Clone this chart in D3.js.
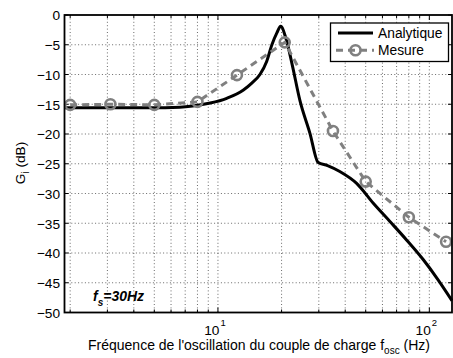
<!DOCTYPE html>
<html>
<head>
<meta charset="utf-8">
<script src="https://cdn.jsdelivr.net/npm/d3@7"></script>
<style>
  html, body { margin: 0; padding: 0; background: #fff; }
  svg { display: block; font-family: "Liberation Sans", Arial, Helvetica, sans-serif; }
</style>
</head>
<body>
<svg id="chart" width="453" height="358"></svg>
<script>
// Analytic transfer gain (dB) versus oscillation frequency (Hz)
const analyticFreq = [1.88, 3, 4.8, 6.6, 7.6, 9.2, 11, 13.2, 14.5, 15.8, 17, 18, 19, 19.8, 21, 22.5, 24.4, 27.2, 29.8, 33, 37.7, 45.3, 54.2, 65.1, 78, 93.5, 110, 128];
const analyticGain = [-15.6, -15.6, -15.6, -15.5, -15.3, -14.8, -14.0, -12.6, -11.4, -10.0, -7.8, -5.0, -3.0, -1.9, -4.0, -8.5, -14.3, -19.8, -24.8, -25.3, -26.3, -28.3, -31.6, -34.7, -37.8, -41.1, -44.5, -48.0];

// Measured gain (dB)
const mesureFreq = [2, 3.1, 5, 8, 12.3, 20.7, 35, 50, 80, 120];
const mesureGain = [-15.1, -15.0, -15.1, -14.6, -10.1, -4.6, -19.5, -28.0, -34.0, -38.1];

// Axis ticks
const yTicks = [0, -5, -10, -15, -20, -25, -30, -35, -40, -45, -50];
const xDecades = [1, 2];
const xDomain = [1.88, 128];
const yDomain = [-50, 0];

const svg = d3.select("#chart");
const mLeft = 64.5, mRight = 452, mTop = 15, mBottom = 312.5;

const x = d3.scaleLog().domain(xDomain).range([mLeft, mRight]);
const y = d3.scaleLinear().domain(yDomain).range([mBottom, mTop]);

// Minor and major log positions inside the domain
const logPositions = [];
for (let d = 0; d <= 2; d++) {
  for (let m = 1; m <= 9; m++) {
    const v = m * Math.pow(10, d);
    if (v >= xDomain[0] && v <= xDomain[1]) logPositions.push(v);
  }
}

// Dotted grid
const grid = svg.append("g").attr("stroke", "#444").attr("stroke-width", 0.8)
  .attr("stroke-dasharray", "1,2.4").attr("fill", "none");
grid.selectAll("line.gx").data(logPositions).join("line")
  .attr("x1", d => x(d)).attr("x2", d => x(d))
  .attr("y1", mTop).attr("y2", mBottom);
grid.selectAll("line.gy").data(yTicks.filter(t => t > -50 && t < 0)).join("line")
  .attr("x1", mLeft).attr("x2", mRight)
  .attr("y1", d => y(d)).attr("y2", d => y(d));

// Ticks (inward, on all four sides)
const ticks = svg.append("g").attr("stroke", "#000").attr("stroke-width", 1);
yTicks.forEach(t => {
  ticks.append("line").attr("x1", mLeft).attr("x2", mLeft + 4).attr("y1", y(t)).attr("y2", y(t));
  ticks.append("line").attr("x1", mRight).attr("x2", mRight - 4).attr("y1", y(t)).attr("y2", y(t));
});
logPositions.forEach(v => {
  const major = Math.abs(Math.log10(v) - Math.round(Math.log10(v))) < 1e-9;
  const len = major ? 5 : 3;
  ticks.append("line").attr("x1", x(v)).attr("x2", x(v)).attr("y1", mBottom).attr("y2", mBottom - len);
  ticks.append("line").attr("x1", x(v)).attr("x2", x(v)).attr("y1", mTop).attr("y2", mTop + len);
});

// Y tick labels
svg.append("g").selectAll("text").data(yTicks).join("text")
  .attr("x", mLeft - 4.5).attr("y", d => y(d) + 5.3)
  .attr("text-anchor", "end").attr("font-size", 13.7).attr("fill", "#000")
  .text(d => d === 0 ? "0" : "\u2212" + Math.abs(d));

// X tick labels (powers of ten)
xDecades.forEach(e => {
  const px = x(Math.pow(10, e));
  svg.append("text").attr("x", px + 1.5).attr("y", 335)
    .attr("text-anchor", "end").attr("font-size", 13.7).text("10");
  svg.append("text").attr("x", px + 2.5).attr("y", 326)
    .attr("font-size", 9.5).text(String(e));
});

// Axis titles
const xt = svg.append("text").attr("x", 259).attr("y", 349.5)
  .attr("text-anchor", "middle").attr("font-size", 14);
xt.append("tspan").text("Fréquence de l'oscillation du couple de charge f");
xt.append("tspan").attr("font-size", 10).attr("dy", 4).text("osc");
xt.append("tspan").attr("dy", -4).text(" (Hz)");

const yt = svg.append("text").attr("transform", "translate(25,163) rotate(-90)")
  .attr("text-anchor", "middle").attr("font-size", 13.7);
yt.append("tspan").text("G");
yt.append("tspan").attr("font-size", 10).attr("dy", 3.5).text("i");
yt.append("tspan").attr("dy", -3.5).text(" (dB)");

// Data lines
const plot = svg.append("g");
const analytic = analyticFreq.map((f, i) => [f, analyticGain[i]]);
const mesure = mesureFreq.map((f, i) => [f, mesureGain[i]]);

plot.append("path").datum(analytic)
  .attr("d", d3.line().x(d => x(d[0])).y(d => y(d[1])).curve(d3.curveMonotoneX))
  .attr("fill", "none").attr("stroke", "#000").attr("stroke-width", 3)
  .attr("stroke-linejoin", "round");

plot.append("path").datum(mesure)
  .attr("d", d3.line().x(d => x(d[0])).y(d => y(d[1])))
  .attr("fill", "none").attr("stroke", "#808080").attr("stroke-width", 3)
  .attr("stroke-dasharray", "7,5");

plot.selectAll("circle").data(mesure).join("circle")
  .attr("cx", d => x(d[0])).attr("cy", d => y(d[1])).attr("r", 5)
  .attr("fill", "none").attr("stroke", "#808080").attr("stroke-width", 2.6);

// Axes box
svg.append("rect").attr("x", mLeft).attr("y", mTop)
  .attr("width", mRight - mLeft).attr("height", mBottom - mTop)
  .attr("fill", "none").attr("stroke", "#000").attr("stroke-width", 1.8);

// Annotation
const ann = svg.append("text").attr("x", 93).attr("y", 300.5)
  .attr("font-size", 14).attr("font-weight", "bold").attr("font-style", "italic");
ann.append("tspan").text("f");
ann.append("tspan").attr("font-size", 10).attr("dy", 5).text("s");
ann.append("tspan").attr("dy", -5).text("=30Hz");

// Legend
const lg = svg.append("g");
lg.append("rect").attr("x", 330.5).attr("y", 23).attr("width", 118).attr("height", 38.5)
  .attr("fill", "#fff").attr("stroke", "#000").attr("stroke-width", 1.3);
lg.append("line").attr("x1", 338).attr("x2", 373).attr("y1", 33).attr("y2", 33)
  .attr("stroke", "#000").attr("stroke-width", 3);
lg.append("line").attr("x1", 336).attr("x2", 374).attr("y1", 50.3).attr("y2", 50.3)
  .attr("stroke", "#808080").attr("stroke-width", 3).attr("stroke-dasharray", "7,5");
lg.append("circle").attr("cx", 355.5).attr("cy", 50.3).attr("r", 5)
  .attr("fill", "none").attr("stroke", "#808080").attr("stroke-width", 2.6);
lg.append("text").attr("x", 378).attr("y", 37.5).attr("font-size", 13.8).text("Analytique");
lg.append("text").attr("x", 378).attr("y", 54.5).attr("font-size", 13.8).text("Mesure");
</script>
</body>
</html>
